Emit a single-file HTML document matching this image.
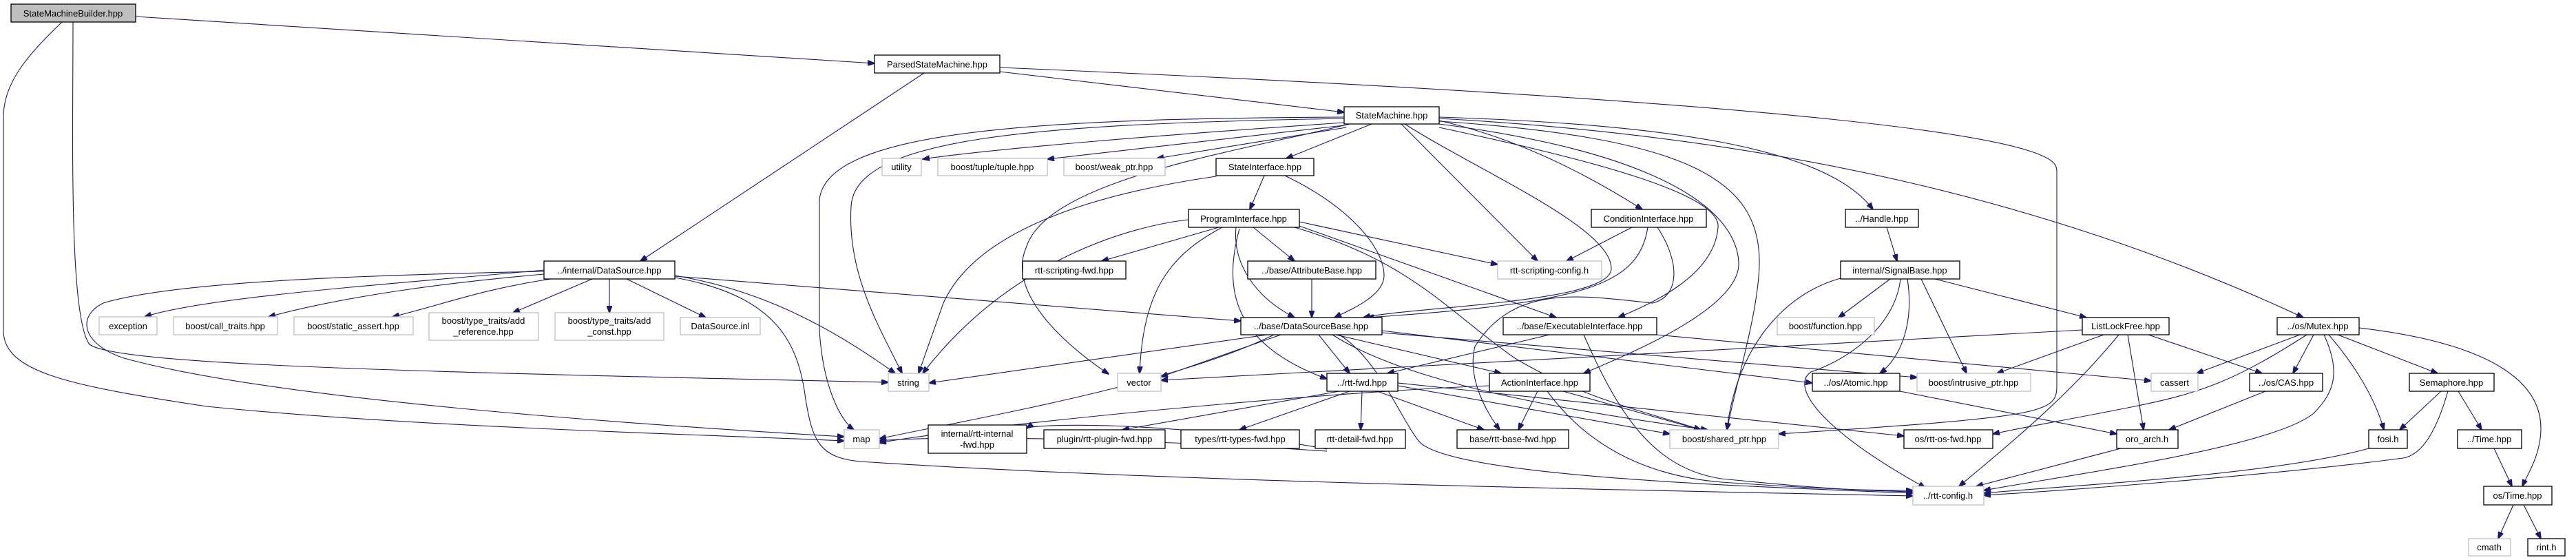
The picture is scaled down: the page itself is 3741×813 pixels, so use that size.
<!DOCTYPE html>
<html><head><meta charset="utf-8"><style>
html,body{margin:0;padding:0;background:#fff;}
svg{display:block;}
text{font-family:"Liberation Sans","DejaVu Sans",sans-serif;font-size:13px;fill:#000;}
.n{fill:#fff;stroke:#000;stroke-width:1.3;}
.g{fill:#fff;stroke:#bfbfbf;stroke-width:1.3;}
.e{fill:none;stroke:#191970;stroke-width:1.1;}
</style></head><body>
<svg width="3741" height="813" viewBox="0 0 3741 813" xmlns="http://www.w3.org/2000/svg">
<defs><marker id="a" markerWidth="11" markerHeight="8" refX="10" refY="4" orient="auto" markerUnits="userSpaceOnUse"><path d="M0,0 L11,4 L0,8 z" fill="#191970" stroke="#191970"/></marker></defs>
<g marker-end="url(#a)" class="e">
<path d="M197,24 L1270,92"/>
<path d="M106,32 C106,200 100,460 130,500 C170,530 600,540 1290,555"/>
<path d="M90,32 C40,80 5,120 5,170 L5,480 C5,540 100,560 300,590 C600,620 1000,630 1226,640"/>
<path d="M1342,106 L930,379"/>
<path d="M1452,104 L1952,163"/>
<path d="M1452,98 C2200,130 2800,170 2950,220 C2985,232 2987,240 2987,250 L2987,560 C2987,600 2970,605 2583,630"/>
<path d="M1952,178 C1700,195 1450,215 1340,231"/>
<path d="M1952,182 L1521,231"/>
<path d="M1955,185 L1680,230"/>
<path d="M1992,180 L1868,230"/>
<path d="M1952,172 C1500,180 1240,200 1236,300 C1230,400 1280,480 1310,542"/>
<path d="M1952,170 C1500,172 1200,190 1190,290 L1190,480 C1195,560 1220,610 1240,624"/>
<path d="M1960,180 C1800,220 1520,260 1490,360 C1460,430 1560,510 1610,543"/>
<path d="M2035,180 L2233,379"/>
<path d="M2090,175 C2200,200 2300,250 2385,304"/>
<path d="M2090,170 C2400,180 2650,210 2720,304"/>
<path d="M2040,180 C2150,250 2340,330 2340,390 C2340,440 2050,445 1980,461"/>
<path d="M2090,185 C2300,230 2500,280 2495,330 C2490,400 2400,440 2350,461"/>
<path d="M2090,180 C2400,220 2520,300 2525,380 C2530,450 2350,520 2300,542"/>
<path d="M2090,176 C2450,200 2555,260 2555,380 C2555,450 2520,560 2508,624"/>
<path d="M2090,172 C2600,200 3000,300 3345,461"/>
<path d="M1836,255 L1815,304"/>
<path d="M1866,255 C1960,300 2010,360 2010,400 C2010,430 1960,450 1938,461"/>
<path d="M1766,256 C1600,280 1420,330 1370,440 L1334,542"/>
<path d="M1770,330 L1600,379"/>
<path d="M1820,330 L1880,379"/>
<path d="M1795,330 C1790,380 1820,430 1880,461"/>
<path d="M1726,319 C1650,327 1470,373 1340,542"/>
<path d="M1775,330 C1700,370 1660,420 1655,542"/>
<path d="M1800,332 C1776,420 1790,500 1927,550"/>
<path d="M1887,322 L2175,384"/>
<path d="M1887,328 L2260,461"/>
<path d="M1880,330 C2050,380 2100,450 2200,520 C2300,580 2400,600 2470,624"/>
<path d="M790,392 C600,410 300,430 210,460"/>
<path d="M790,398 C650,410 500,430 390,460"/>
<path d="M800,405 C700,420 650,440 570,460"/>
<path d="M860,405 L745,454"/>
<path d="M885,405 L885,454"/>
<path d="M910,405 L1025,461"/>
<path d="M980,400 C1100,420 1200,470 1300,542"/>
<path d="M980,403 C1130,430 1160,500 1170,580 C1180,640 1190,665 1250,670 C1700,700 2400,712 2778,720"/>
<path d="M790,394 C500,400 250,410 150,440 C110,460 120,500 180,520 C400,580 900,615 1226,634"/>
<path d="M980,401 L1802,466"/>
<path d="M1905,405 L1905,461"/>
<path d="M2370,330 L2275,379"/>
<path d="M2393,330 C2380,415 2300,440 1985,461"/>
<path d="M2407,330 C2440,380 2440,430 2400,440 C2300,430 2200,410 2142,503 C2130,550 2160,600 2178,624"/>
<path d="M2740,330 L2755,379"/>
<path d="M2745,405 L2670,461"/>
<path d="M2673,404 C2580,430 2520,518 2508,624"/>
<path d="M2770,405 C2780,470 2760,520 2730,542"/>
<path d="M2790,405 L2856,542"/>
<path d="M2810,405 L3030,461"/>
<path d="M2760,404 C2754,467 2694,518 2630,540 C2600,560 2640,622 2796,708"/>
<path d="M1840,486 L1349,556"/>
<path d="M1860,486 L1686,547"/>
<path d="M1915,486 L1960,542"/>
<path d="M1940,486 L2180,542"/>
<path d="M1850,486 C1700,560 1400,610 1277,637"/>
<path d="M2007,480 L2632,556"/>
<path d="M2007,483 L2784,548"/>
<path d="M1935,486 C2050,560 2300,600 2480,624"/>
<path d="M1945,486 C2000,520 2030,600 2060,640 C2100,690 2500,705 2778,716"/>
<path d="M2250,486 L2015,542"/>
<path d="M2300,486 C2350,600 2400,680 2500,695 C2650,710 2700,712 2778,714"/>
<path d="M2406,486 L3124,553"/>
<path d="M1927,652 C1700,610 1500,615 1491,622"/>
<path d="M1927,655 C1700,640 1400,630 1277,640"/>
<path d="M1945,568 L1630,624"/>
<path d="M1960,568 L1800,624"/>
<path d="M1978,568 L1976,624"/>
<path d="M2000,568 L2155,624"/>
<path d="M2030,560 L2425,630"/>
<path d="M2030,556 L2765,633"/>
<path d="M2233,568 L2205,624"/>
<path d="M2270,568 L2470,624"/>
<path d="M2247,568 C2300,640 2380,690 2500,700 C2650,710 2700,712 2778,712"/>
<path d="M2163,560 C1900,570 1400,620 1277,643"/>
<path d="M2759,568 L3074,630"/>
<path d="M3024,479 L1686,552"/>
<path d="M3055,486 L2900,542"/>
<path d="M3120,486 L3285,542"/>
<path d="M3090,486 L3113,624"/>
<path d="M3077,486 C3000,580 2900,660 2845,706"/>
<path d="M3340,486 L3190,542"/>
<path d="M3350,486 C3250,550 3200,570 3100,590 C3000,610 2950,618 2894,630"/>
<path d="M3360,486 L3330,542"/>
<path d="M3375,486 C3400,540 3390,570 3360,600 C3300,650 3000,690 2881,712"/>
<path d="M3382,486 C3420,530 3450,580 3462,624"/>
<path d="M3395,486 L3540,542"/>
<path d="M3426,476 C3630,500 3690,560 3690,622 C3690,660 3670,690 3663,706"/>
<path d="M3290,568 L3150,624"/>
<path d="M3080,651 L2870,706"/>
<path d="M3440,651 C3300,690 3000,705 2881,716"/>
<path d="M3545,568 L3485,624"/>
<path d="M3570,568 L3604,624"/>
<path d="M3555,568 C3540,620 3520,660 3490,665 C3300,690 3000,712 2881,719"/>
<path d="M3622,651 L3648,706"/>
<path d="M3650,733 L3628,782"/>
<path d="M3665,733 L3690,782"/>
</g>
<g text-anchor="middle">
<rect x="16" y="6" width="181" height="26" fill="#bfbfbf" stroke="#000" stroke-width="1.3"/><text x="106" y="24">StateMachineBuilder.hpp</text>
<rect class="n" x="1270" y="80" width="182" height="26"/><text x="1361" y="98">ParsedStateMachine.hpp</text>
<rect class="n" x="1952" y="155" width="138" height="25"/><text x="2021" y="172">StateMachine.hpp</text>
<rect class="n" x="790" y="379" width="190" height="26"/><text x="885" y="397">../internal/DataSource.hpp</text>
<rect class="g" x="144" y="460" width="84" height="26"/><text x="186" y="478">exception</text>
<rect class="g" x="252" y="460" width="151" height="26"/><text x="327" y="478">boost/call_traits.hpp</text>
<rect class="g" x="427" y="460" width="173" height="26"/><text x="513" y="478">boost/static_assert.hpp</text>
<rect class="g" x="623" y="454" width="159" height="40"/><text x="702" y="470">boost/type_traits/add</text><text x="702" y="486">_reference.hpp</text>
<rect class="g" x="806" y="454" width="158" height="40"/><text x="885" y="470">boost/type_traits/add</text><text x="885" y="486">_const.hpp</text>
<rect class="g" x="988" y="461" width="116" height="25"/><text x="1046" y="478">DataSource.inl</text>
<rect class="g" x="1281" y="230" width="57" height="25"/><text x="1309" y="247">utility</text>
<rect class="g" x="1362" y="230" width="159" height="25"/><text x="1441" y="247">boost/tuple/tuple.hpp</text>
<rect class="g" x="1545" y="230" width="147" height="25"/><text x="1618" y="247">boost/weak_ptr.hpp</text>
<rect class="n" x="1766" y="230" width="142" height="25"/><text x="1837" y="247">StateInterface.hpp</text>
<rect class="n" x="1726" y="304" width="161" height="26"/><text x="1806" y="322">ProgramInterface.hpp</text>
<rect class="n" x="2311" y="304" width="167" height="26"/><text x="2394" y="322">ConditionInterface.hpp</text>
<rect class="n" x="2680" y="304" width="106" height="26"/><text x="2733" y="322">../Handle.hpp</text>
<rect class="n" x="1485" y="379" width="150" height="26"/><text x="1560" y="397">rtt-scripting-fwd.hpp</text>
<rect class="n" x="1812" y="379" width="186" height="26"/><text x="1905" y="397">../base/AttributeBase.hpp</text>
<rect class="g" x="2175" y="379" width="151" height="26"/><text x="2250" y="397">rtt-scripting-config.h</text>
<rect class="n" x="2673" y="379" width="173" height="26"/><text x="2759" y="397">internal/SignalBase.hpp</text>
<rect class="n" x="1802" y="461" width="205" height="25"/><text x="1904" y="478">../base/DataSourceBase.hpp</text>
<rect class="n" x="2183" y="461" width="223" height="25"/><text x="2294" y="478">../base/ExecutableInterface.hpp</text>
<rect class="g" x="2581" y="461" width="141" height="25"/><text x="2651" y="478">boost/function.hpp</text>
<rect class="n" x="3024" y="461" width="126" height="25"/><text x="3087" y="478">ListLockFree.hpp</text>
<rect class="n" x="3307" y="461" width="119" height="25"/><text x="3366" y="478">../os/Mutex.hpp</text>
<rect class="g" x="1290" y="542" width="59" height="26"/><text x="1319" y="560">string</text>
<rect class="g" x="1623" y="542" width="63" height="26"/><text x="1654" y="560">vector</text>
<rect class="n" x="1927" y="542" width="103" height="26"/><text x="1978" y="560">../rtt-fwd.hpp</text>
<rect class="n" x="2163" y="542" width="146" height="26"/><text x="2236" y="560">ActionInterface.hpp</text>
<rect class="n" x="2632" y="542" width="127" height="26"/><text x="2695" y="560">../os/Atomic.hpp</text>
<rect class="g" x="2784" y="542" width="165" height="26"/><text x="2866" y="560">boost/intrusive_ptr.hpp</text>
<rect class="g" x="3124" y="542" width="68" height="26"/><text x="3158" y="560">cassert</text>
<rect class="n" x="3267" y="542" width="106" height="26"/><text x="3320" y="560">../os/CAS.hpp</text>
<rect class="n" x="3499" y="542" width="123" height="26"/><text x="3560" y="560">Semaphore.hpp</text>
<rect class="g" x="1226" y="624" width="51" height="27"/><text x="1251" y="642">map</text>
<rect class="n" x="1348" y="617" width="143" height="41"/><text x="1419" y="634">internal/rtt-internal</text><text x="1419" y="650">-fwd.hpp</text>
<rect class="n" x="1516" y="624" width="176" height="27"/><text x="1604" y="642">plugin/rtt-plugin-fwd.hpp</text>
<rect class="n" x="1715" y="624" width="172" height="27"/><text x="1801" y="642">types/rtt-types-fwd.hpp</text>
<rect class="n" x="1910" y="624" width="131" height="27"/><text x="1975" y="642">rtt-detail-fwd.hpp</text>
<rect class="n" x="2116" y="624" width="162" height="27"/><text x="2197" y="642">base/rtt-base-fwd.hpp</text>
<rect class="g" x="2425" y="624" width="158" height="27"/><text x="2504" y="642">boost/shared_ptr.hpp</text>
<rect class="n" x="2765" y="624" width="129" height="27"/><text x="2829" y="642">os/rtt-os-fwd.hpp</text>
<rect class="n" x="3074" y="624" width="89" height="27"/><text x="3118" y="642">oro_arch.h</text>
<rect class="n" x="3440" y="624" width="56" height="27"/><text x="3468" y="642">fosi.h</text>
<rect class="n" x="3569" y="624" width="93" height="27"/><text x="3615" y="642">../Time.hpp</text>
<rect class="g" x="2778" y="706" width="103" height="27"/><text x="2829" y="724">../rtt-config.h</text>
<rect class="n" x="3607" y="706" width="99" height="27"/><text x="3656" y="724">os/Time.hpp</text>
<rect class="g" x="3585" y="782" width="61" height="25"/><text x="3615" y="799">cmath</text>
<rect class="n" x="3671" y="782" width="54" height="25"/><text x="3698" y="799">rint.h</text>
</g>
</svg>
</body></html>
